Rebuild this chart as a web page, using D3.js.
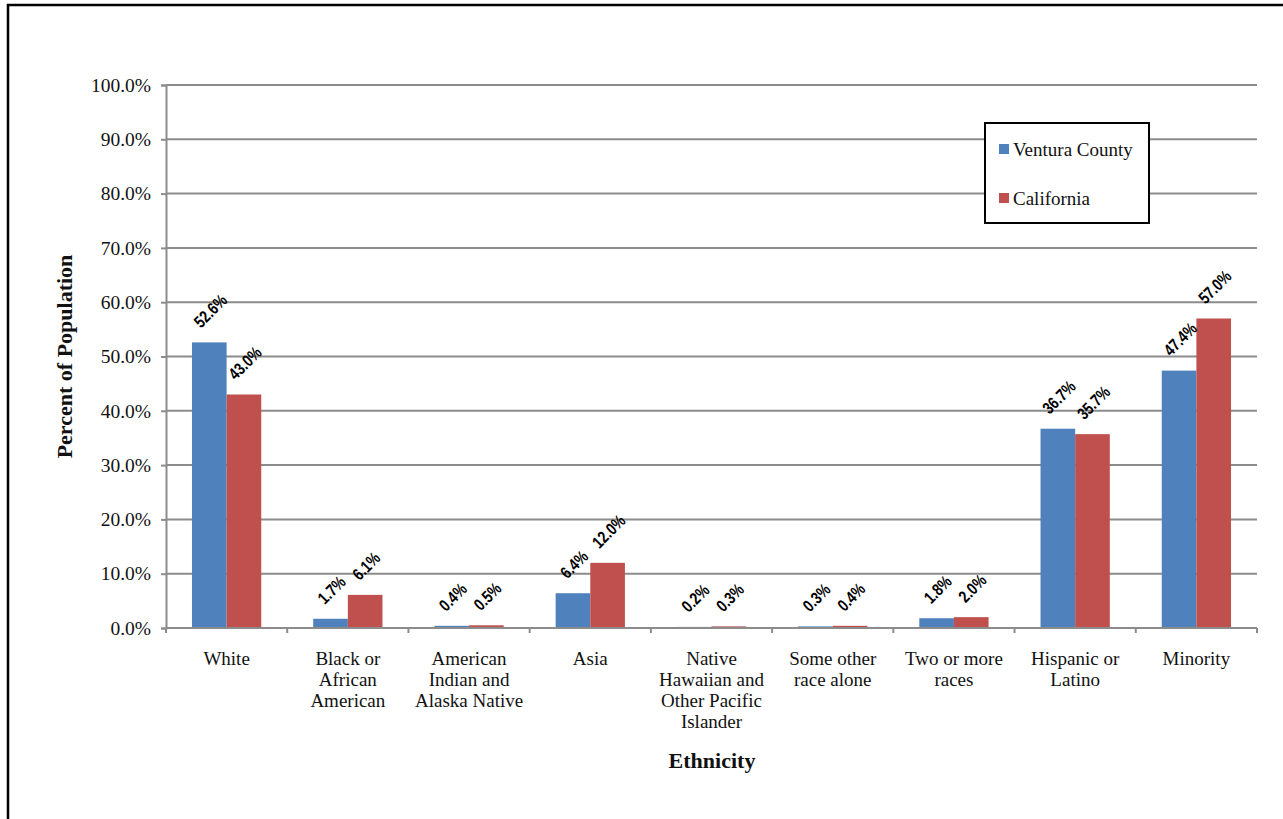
<!DOCTYPE html>
<html>
<head>
<meta charset="utf-8">
<script src="https://cdn.jsdelivr.net/npm/d3@7"></script>
<style>
  html, body { margin: 0; padding: 0; background: #ffffff; }
  svg { display: block; }
</style>
</head>
<body>
<svg id="chart" width="1283" height="819"></svg>
<script>
// Population share by ethnicity, Ventura County vs. California
const categories = [
  ["White"],
  ["Black or", "African", "American"],
  ["American", "Indian and", "Alaska Native"],
  ["Asia"],
  ["Native", "Hawaiian and", "Other Pacific", "Islander"],
  ["Some other", "race alone"],
  ["Two or more", "races"],
  ["Hispanic or", "Latino"],
  ["Minority"]
];
const seriesNames = ["Ventura County", "California"];
const venturaValues = [52.6, 1.7, 0.4, 6.4, 0.2, 0.3, 1.8, 36.7, 47.4];
const californiaValues = [43.0, 6.1, 0.5, 12.0, 0.3, 0.4, 2.0, 35.7, 57.0];
const yTicks = [0, 10, 20, 30, 40, 50, 60, 70, 80, 90, 100];
const colors = ["#4F81BD", "#C0504D"];

const svg = d3.select("#chart");
const serif = "'Liberation Serif', 'Times New Roman', serif";
const labelFont = "'Liberation Sans', Arial, sans-serif";
const gridColor = "#8c8c8c";

// outer frame (open to the right and bottom edges)
svg.append("rect")
  .attr("x", 8).attr("y", 5)
  .attr("width", 1300).attr("height", 840)
  .attr("fill", "none").attr("stroke", "#000").attr("stroke-width", 2.5);

const plot = { left: 166, right: 1257, top: 85, bottom: 628 };

const keys = categories.map((c, i) => i);
const x = d3.scaleBand().domain(keys).range([plot.left, plot.right]).padding(0);
// Excel-style gap width 150%: band = 3.5 bar widths
const barW = x.bandwidth() / 3.5;
const xs = d3.scaleBand().domain([0, 1]).range([0, barW * 2]).padding(0);
const y = d3.scaleLinear().domain([0, 100]).range([plot.bottom, plot.top]);

// horizontal gridlines
svg.append("g").selectAll("line")
  .data(yTicks.filter(t => t > 0))
  .join("line")
  .attr("x1", plot.left).attr("x2", plot.right)
  .attr("y1", d => y(d)).attr("y2", d => y(d))
  .attr("stroke", gridColor).attr("stroke-width", 2);

// y axis
const yAxis = d3.axisLeft(y).tickValues(yTicks).tickSize(5).tickPadding(10)
  .tickFormat(d => d3.format(".1f")(d) + "%");
const gy = svg.append("g").attr("transform", `translate(${plot.left},0)`).call(yAxis);
gy.select(".domain").attr("stroke", gridColor).attr("stroke-width", 2);
gy.selectAll(".tick line").attr("stroke", gridColor).attr("stroke-width", 2);
gy.selectAll(".tick text")
  .attr("font-family", serif).attr("font-size", 19.5).attr("fill", "#111");

// bars
const seriesData = [venturaValues, californiaValues];
const groups = svg.append("g").selectAll("g")
  .data(keys).join("g")
  .attr("transform", d => `translate(${x(d) + (x.bandwidth() - barW * 2) / 2},0)`);

groups.selectAll("rect")
  .data(i => seriesData.map((vals, s) => ({ s, v: vals[i] })))
  .join("rect")
  .attr("x", d => xs(d.s))
  .attr("width", barW)
  .attr("y", d => y(d.v))
  .attr("height", d => y(0) - y(d.v))
  .attr("fill", d => colors[d.s]);

// x axis baseline with ticks between categories
svg.append("line")
  .attr("x1", plot.left).attr("x2", plot.right)
  .attr("y1", plot.bottom).attr("y2", plot.bottom)
  .attr("stroke", gridColor).attr("stroke-width", 2);
const boundaries = keys.map(k => x(k)).concat([plot.right]);
svg.append("g").selectAll("line")
  .data(boundaries).join("line")
  .attr("x1", d => d).attr("x2", d => d)
  .attr("y1", plot.bottom).attr("y2", plot.bottom + 5)
  .attr("stroke", gridColor).attr("stroke-width", 2);

// category labels
const catLabels = svg.append("g").selectAll("text")
  .data(keys).join("text")
  .attr("x", d => x(d) + x.bandwidth() / 2)
  .attr("y", 665)
  .attr("text-anchor", "middle")
  .attr("font-family", serif).attr("font-size", 19).attr("fill", "#111");
catLabels.selectAll("tspan")
  .data(d => categories[d])
  .join("tspan")
  .attr("x", function () { return this.parentNode.getAttribute("x"); })
  .attr("dy", (d, i) => i === 0 ? 0 : 21)
  .text(d => d);

// value labels, rotated -45 and centred above each bar (narrowed bold sans)
const squeeze = 0.8;
groups.each(function (i) {
  const g = d3.select(this);
  seriesData.forEach((vals, s) => {
    const v = vals[i];
    const cx = xs(s) + barW / 2;
    const t = g.append("text")
      .attr("font-family", labelFont).attr("font-size", 17).attr("font-weight", "bold")
      .attr("fill", "#000").attr("text-anchor", "middle")
      .attr("dominant-baseline", "central")
      .text(d3.format(".1f")(v) + "%");
    const L = t.node().getComputedTextLength() * squeeze;
    const h = 14;
    const off = 13 + (L + h) / (2 * Math.SQRT2);
    t.attr("transform", `translate(${cx + 1},${y(v) - off}) rotate(-45) scale(${squeeze},1)`);
  });
});

// axis titles
svg.append("text")
  .attr("transform", `translate(72,${(plot.top + plot.bottom) / 2}) rotate(-90)`)
  .attr("text-anchor", "middle")
  .attr("font-family", serif).attr("font-size", 22).attr("font-weight", "bold")
  .attr("fill", "#111")
  .text("Percent of Population");

svg.append("text")
  .attr("x", 712).attr("y", 768)
  .attr("text-anchor", "middle")
  .attr("font-family", serif).attr("font-size", 22).attr("font-weight", "bold")
  .attr("fill", "#111")
  .text("Ethnicity");

// legend
const legend = svg.append("g");
legend.append("rect")
  .attr("x", 985).attr("y", 123).attr("width", 164).attr("height", 100)
  .attr("fill", "#fff").attr("stroke", "#000").attr("stroke-width", 2);
const legendRows = legend.selectAll("g")
  .data(seriesNames).join("g")
  .attr("transform", (d, i) => `translate(999,${156 + i * 49})`);
legendRows.append("rect")
  .attr("x", 0).attr("y", -12).attr("width", 10).attr("height", 10)
  .attr("fill", (d, i) => colors[i]);
legendRows.append("text")
  .attr("x", 14).attr("y", 0)
  .attr("font-family", serif).attr("font-size", 19).attr("fill", "#111")
  .text(d => d);
</script>
</body>
</html>
